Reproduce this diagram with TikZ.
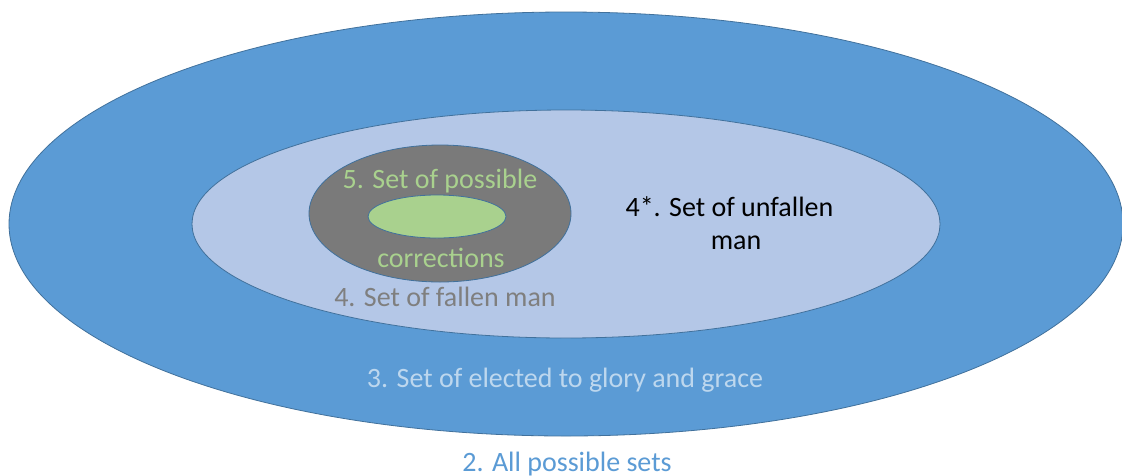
\documentclass[tikz,border=0pt]{standalone}
\usepackage{fontspec}
\setmainfont{Carlito}
\definecolor{outerblue}{HTML}{5B9BD5}
\definecolor{edgeblue}{HTML}{41719C}
\definecolor{midblue}{HTML}{B4C7E7}
\definecolor{darkgrey}{HTML}{7A7A7A}
\definecolor{lightgreen}{HTML}{A9D18E}
\definecolor{greytext}{HTML}{7F7F7F}
\definecolor{paleblue}{HTML}{BDD7EE}
\tikzset{
  setshape/.style={draw=edgeblue, line width=0.8pt},
  lbl/.style={anchor=base, inner sep=0pt, font=\fontsize{28}{33}\selectfont},
}
\begin{document}
\begin{tikzpicture}[x=1pt,y=-1pt]
\useasboundingbox (0,0) rectangle (1122,475);
\fill[white] (0,0) rectangle (1122,475);
\path[setshape, fill=outerblue] (566,224) ellipse [x radius=557, y radius=212];
\path[setshape, fill=midblue] (566,224) ellipse [x radius=374, y radius=114];
\path[setshape, fill=darkgrey] (440,213.5) ellipse [x radius=131, y radius=68.5];
\path[setshape, fill=lightgreen] (437,216.5) ellipse [x radius=69, y radius=21.5];
\node[lbl, text=lightgreen] (t5a) at (440,188) {5. Set of possible};
\node[lbl, text=lightgreen] (t5b) at (441,267) {corrections};
\node[lbl, text=greytext] (t4) at (445,306) {4. Set of fallen man};
\node[lbl, text=black] (t4sa) at (729.5,216) {4*. Set of unfallen};
\node[lbl, text=black] (t4sb) at (736,249) {man};
\node[lbl, text=paleblue] (t3) at (565,387) {3. Set of elected to glory and grace};
\node[lbl, text=outerblue] (t2) at (567,471) {2. All possible sets};
\end{tikzpicture}
\end{document}
